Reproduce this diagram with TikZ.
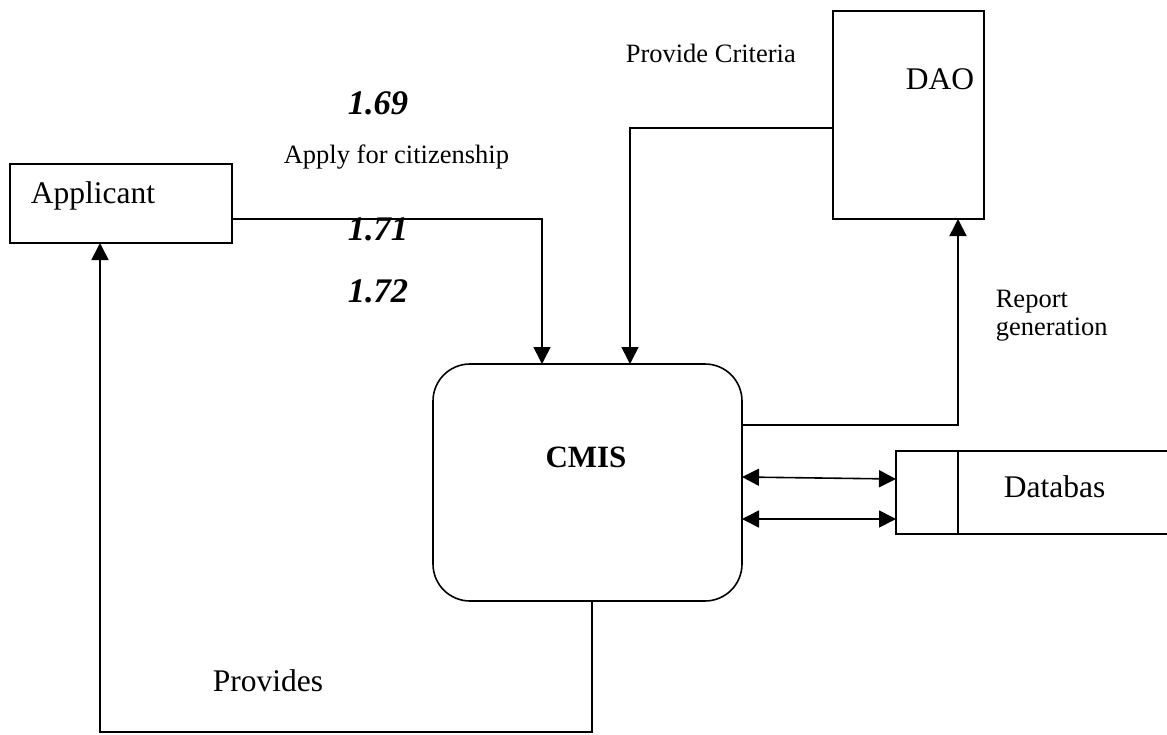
\documentclass[tikz,border=0pt]{standalone}
\usepackage{fontspec}
\setmainfont{Liberation Serif}
\usetikzlibrary{arrows.meta}
\begin{document}
\begin{tikzpicture}[x=1pt,y=-1pt,
  line width=1.6pt,
  box/.style={draw,inner sep=0pt,outer sep=0pt,anchor=north west},
  big/.style={font=\fontsize{31.5}{34}\selectfont,inner sep=0pt,anchor=base west},
  small/.style={font=\fontsize{26.5}{28}\selectfont,inner sep=0pt,anchor=base west},
  num/.style={font=\fontsize{34.5}{36}\selectfont\bfseries\itshape,inner sep=0pt,anchor=base west},
  arr/.style={-{Triangle[length=17pt 0,width=17pt 0]}},
  dbl/.style={{Triangle[length=17pt 0,width=17pt 0]}-{Triangle[length=17pt 0,width=17pt 0]}}]
\useasboundingbox (0,0) rectangle (1167,734);
\clip (0,0) rectangle (1167,734);
% boxes
\node[box,minimum width=222pt,minimum height=79pt] (app) at (10,164) {};
\node[big] (apptxt) at (30,203) {Applicant};
\node[box,minimum width=151pt,minimum height=208pt] (dao) at (833,11) {};
\node[big] (daotxt) at (905,89) {DAO};
\node[box,rounded corners=37pt,minimum width=309pt,minimum height=237pt] (cmis) at (433,364) {};
\node[font=\fontsize{31}{34}\selectfont\bfseries,inner sep=0pt,anchor=base] (cmistxt) at (586,467) {CMIS};
\node[box,minimum width=300pt,minimum height=83pt] (db) at (896,451) {};
\coordinate (dbdiv) at (958,451);
\draw (dbdiv) -- (dbdiv |- db.south);
\node[big] (dbtxt) at (1003,497) {Databas};
% labels
\node[num] (n169) at (347,114) {1.69};
\node[small] (apply) at (283,163) {Apply for citizenship};
\node[small] (crit) at (625,62) {Provide Criteria};
\node[small] (rep) at (995,307) {Report};
\node[small] (gen) at (995,335) {generation};
\node[big] (prov) at (212,691) {Provides};
% connectors
\draw[arr] (app.east |- 0,219) -| (cmis.north -| 542,0);
\node[num] (n171) at (347,240) {1.71};
\node[num] (n172) at (347,302) {1.72};
\draw[arr] (dao.west |- 0,128) -| (cmis.north -| 630,0);
\draw[arr] (cmis.east |- 0,425) -| (dao.south -| 958,0);
\draw[dbl] (cmis.east |- 0,477) -- (db.west |- 0,479);
\draw[dbl] (cmis.east |- 0,519) -- (db.west |- 0,519);
\coordinate (bot) at (592,732);
\draw[arr] (cmis.south -| bot) -- (bot) -| (app.south -| 100,0);
\end{tikzpicture}
\end{document}
